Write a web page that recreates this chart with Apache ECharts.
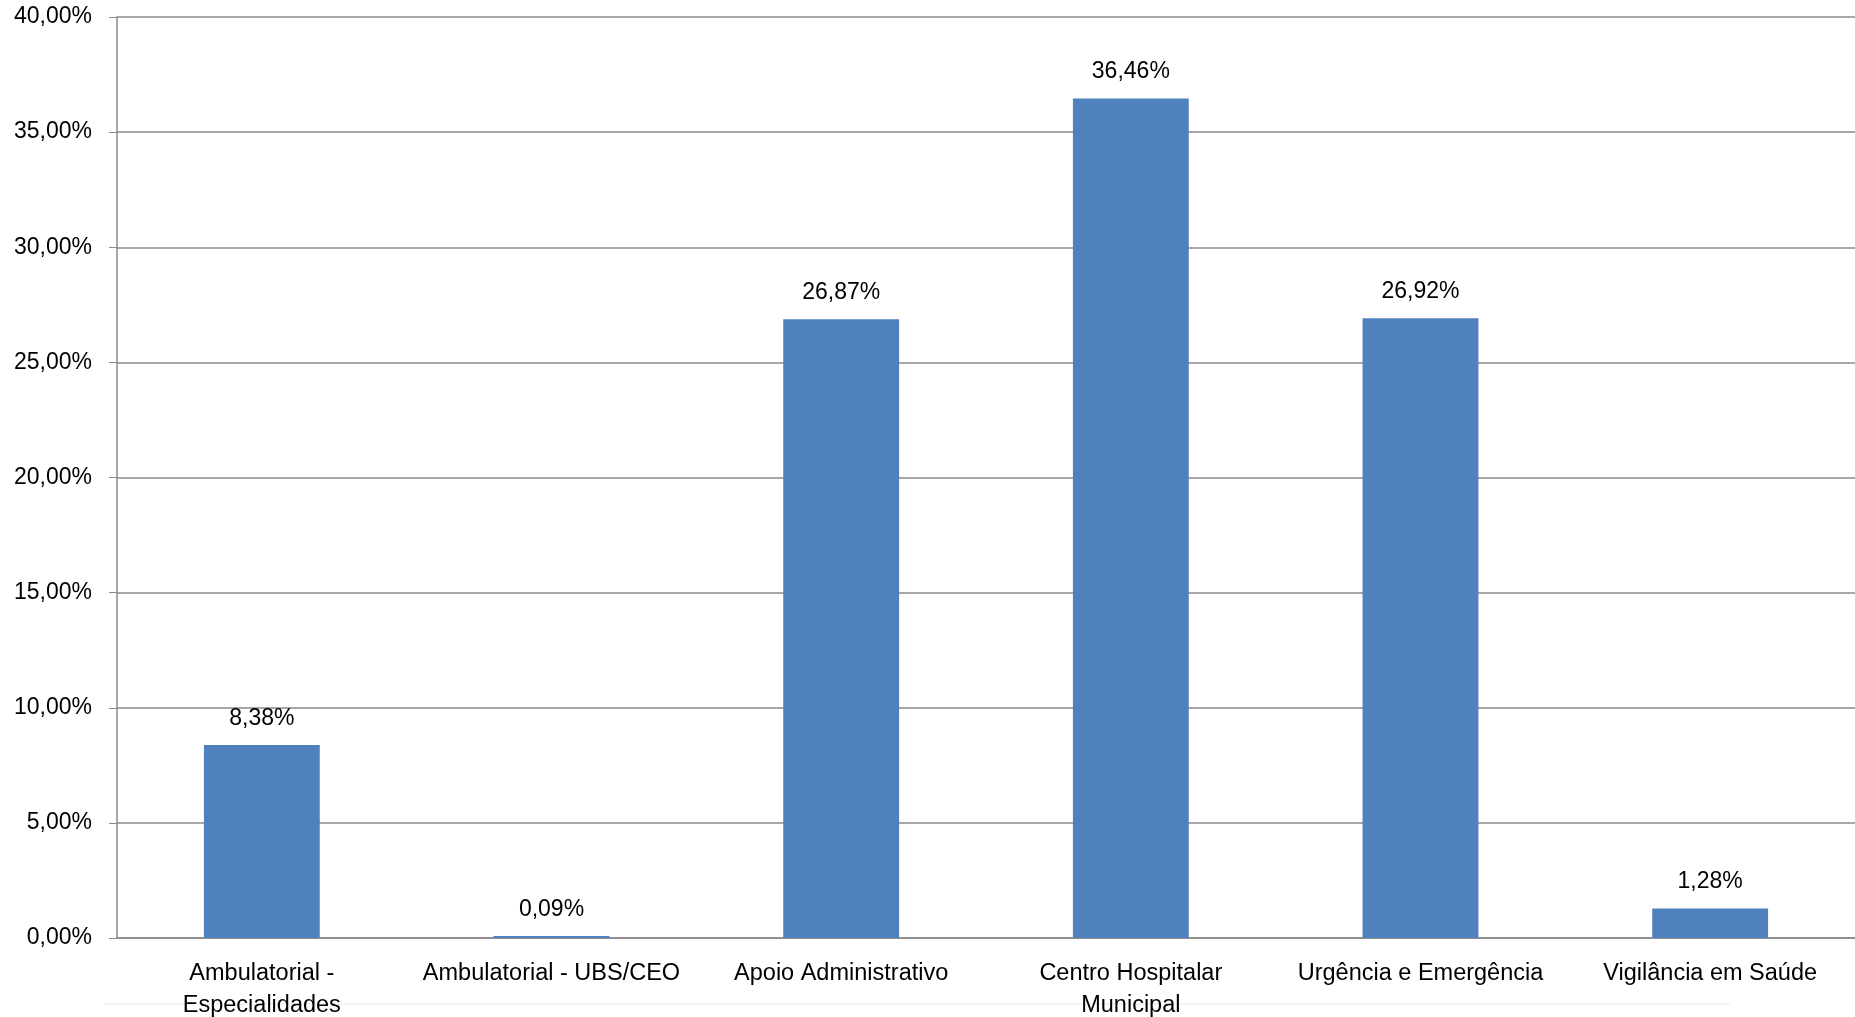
<!DOCTYPE html>
<html>
<head>
<meta charset="utf-8">
<title>Distribuição por área</title>
<script src="https://cdn.jsdelivr.net/npm/echarts@6/dist/echarts.min.js"></script>
<style>
html, body { margin:0; padding:0; background:#fff; }
#chart { width:1855px; height:1017px; }
</style>
</head>
<body>
<div id="chart"></div>
<script>
// categorias e percentuais
var categorias = ['Ambulatorial -\nEspecialidades', 'Ambulatorial - UBS/CEO', 'Apoio Administrativo',
	'Centro Hospitalar\nMunicipal', 'Urgência e Emergência', 'Vigilância em Saúde'];
var percentuais = [8.38, 0.09, 26.87, 36.46, 26.92, 1.28];
var eixoMin = 0, eixoMax = 40, eixoPasso = 5;

function fmtPct(v){
	return v.toFixed(2).replace('.', ',') + '%';
}

var fonte = 'Liberation Sans';
var myChart = echarts.init(document.getElementById('chart'));
var option = {
	animation: false,
	textStyle: { fontFamily: fonte },
	grid: { left: 117, top: 17, right: 0, bottom: 79, outerBoundsMode: 'none', containLabel: false },
	graphic: [{
		type: 'line', z: -1,
		shape: { x1: 104, y1: 1004, x2: 1730, y2: 1004 },
		style: { stroke: '#e8ecec', lineWidth: 1 }
	}],
	xAxis: {
		type: 'category',
		data: categorias,
		axisLine: { lineStyle: { color: '#8a8a8a', width: 1.5 } },
		axisTick: { length: 8, lineStyle: { color: '#8a8a8a' } },
		axisLabel: { color: '#000', fontSize: 23.5, margin: 20, lineHeight: 32, interval: 0 }
	},
	yAxis: {
		type: 'value',
		min: eixoMin, max: eixoMax, interval: eixoPasso,
		axisLine: { show: true, lineStyle: { color: '#8a8a8a', width: 1.5 } },
		axisTick: { show: true, length: 8, lineStyle: { color: '#8a8a8a' } },
		axisLabel: { color: '#000', fontSize: 23, margin: 25, formatter: function(v){ return fmtPct(v); } },
		splitLine: { lineStyle: { color: '#8a8a8a', width: 1.5 } }
	},
	series: [{
		type: 'bar',
		data: percentuais,
		barWidth: '40%',
		itemStyle: { color: '#4f81bd' },
		label: {
			show: true, position: 'top', distance: 15,
			color: '#000', fontSize: 23,
			formatter: function(p){ return fmtPct(p.value); }
		}
	}]
};
myChart.setOption(option);
</script>
</body>
</html>
